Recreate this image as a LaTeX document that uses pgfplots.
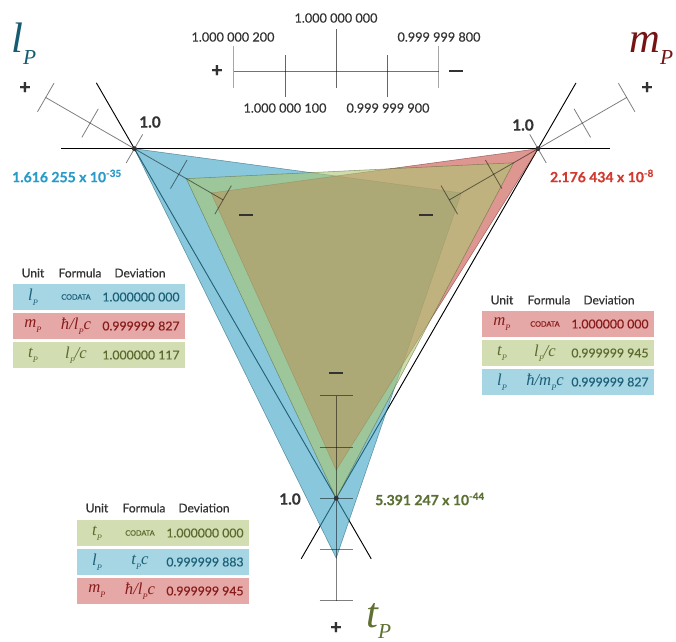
\documentclass[border=0pt]{standalone}
\usepackage{pgfplots}
\pgfplotsset{compat=1.18}
\usepackage{graphicx}
\usepackage{fontspec}
\setmainfont{Lato}[FakeBold=0.5]
\newfontfamily\symfont{Liberation Serif}

% ---------- colours ----------
\definecolor{fillB}{RGB}{58,163,197}
\definecolor{fillR}{RGB}{200,80,72}
\definecolor{fillG}{RGB}{172,197,113}
\definecolor{rowB}{RGB}{166,213,228}
\definecolor{rowR}{RGB}{230,168,166}
\definecolor{rowG}{RGB}{210,222,178}
\definecolor{txB}{RGB}{28,96,120}
\definecolor{txR}{RGB}{135,28,28}
\definecolor{txG}{RGB}{92,106,48}
\definecolor{valB}{RGB}{40,155,200}
\definecolor{valR}{RGB}{208,58,48}
\definecolor{valG}{RGB}{92,112,52}
\definecolor{bigL}{RGB}{22,92,112}
\definecolor{bigM}{RGB}{118,20,20}
\definecolor{bigT}{RGB}{96,112,50}
\definecolor{ink}{RGB}{51,51,51}

% ---------- data: each unit relative to its CODATA value ----------
% system fixed by the Planck length
\def\LsysL{1.000000000}\def\LsysM{0.999999827}\def\LsysT{1.000000117}
% system fixed by the Planck mass
\def\MsysM{1.000000000}\def\MsysT{0.999999945}\def\MsysL{0.999999827}
% system fixed by the Planck time
\def\TsysT{1.000000000}\def\TsysL{0.999999883}\def\TsysM{0.999999945}

% ---------- geometry of the three radial axes ----------
\def\cx{336.2}\def\cy{265.2}% centre
\def\R{233}%                 distance centre -> value 1.0
\def\sc{51.2}%               length of 1e-7 on every axis
\def\tl{16.5}%               half length of a tick
\def\uLx{-0.8660254}\def\uLy{-0.5}
\def\uMx{0.8660254}\def\uMy{-0.5}
\def\uTx{0}\def\uTy{1}

% point of value #2 on axis #3, stored as \#1x, \#1y
\newcommand\place[3]{%
  \expandafter\edef\csname #1x\endcsname{\fpeval{round(\cx+(\R+((#2)-1)*\sc*1e7)*(\csname u#3x\endcsname),3)}}%
  \expandafter\edef\csname #1y\endcsname{\fpeval{round(\cy+(\R+((#2)-1)*\sc*1e7)*(\csname u#3y\endcsname),3)}}}
\place{pLL}{\LsysL}{L}\place{pLM}{\LsysM}{M}\place{pLT}{\LsysT}{T}
\place{pML}{\MsysL}{L}\place{pMM}{\MsysM}{M}\place{pMT}{\MsysT}{T}
\place{pTL}{\TsysL}{L}\place{pTM}{\TsysM}{M}\place{pTT}{\TsysT}{T}

\tikzset{
  rule/.style={black, draw opacity=0.5, line width=0.6pt},
  side/.style={black, line width=0.7pt},
  hdr/.style={inner sep=0pt, text=ink, font=\fontsize{9}{10}\selectfont},
  tick/.style={inner sep=0pt, text=ink, font=\fontsize{9.5}{11}\selectfont},
  one/.style={inner sep=0pt, text=ink, font=\bfseries\fontsize{11.5}{13}\selectfont},
  sign/.style={inner sep=0pt, text=ink, font=\bfseries\fontsize{15}{16}\selectfont},
  val/.style={inner sep=0pt, font=\bfseries\fontsize{10.5}{12}\selectfont},
}

\newcommand\sub[1]{\raisebox{-0.28em}{\scalebox{0.5}{#1}}}
\newcommand\uf{\symfont\itshape\fontsize{12.5}{14}\selectfont}
\newcommand\codata{{\fontsize{5.5}{6}\selectfont CODATA}}
\newcommand\minus{\rule{10.5pt}{2.2pt}}

% ruler along axis #1, -2..+2 units around the value 1.0
\newcommand\ruler[1]{%
  \edef\ux{\csname u#1x\endcsname}\edef\uy{\csname u#1y\endcsname}%
  \edef\vx{\fpeval{\cx+\R*(\ux)}}\edef\vy{\fpeval{\cy+\R*(\uy)}}%
  \edef\tmp{\noexpand\addplot[rule] coordinates {(\fpeval{\vx+2*\sc*(\ux)},\fpeval{\vy+2*\sc*(\uy)}) (\fpeval{\vx-2*\sc*(\ux)},\fpeval{\vy-2*\sc*(\uy)})};}\tmp
  \foreach \k in {-2,-1,0,1,2}{%
    \edef\tmp{\noexpand\addplot[rule] coordinates {(\fpeval{\vx+(\k)*\sc*(\ux)-\tl*(\uy)},\fpeval{\vy+(\k)*\sc*(\uy)+\tl*(\ux)}) (\fpeval{\vx+(\k)*\sc*(\ux)+\tl*(\uy)},\fpeval{\vy+(\k)*\sc*(\uy)-\tl*(\ux)})};}\tmp
  }}

% table header at left edge #1, height #2
\newcommand\thead[2]{%
  \edef\tmp{\noexpand\node[hdr] at (\fpeval{#1+20},#2) {Unit};
    \noexpand\node[hdr] at (\fpeval{#1+67},#2) {Formula};
    \noexpand\node[hdr] at (\fpeval{#1+127},#2) {Deviation};}\tmp}
% table row: left edge, top, fill, text colour, unit, formula, deviation
\newcommand\trow[7]{%
  \edef\tmp{\noexpand\fill[#3] (#1,#2) rectangle (\fpeval{#1+172},\fpeval{#2+26});
    \noexpand\node[inner sep=0pt, text=#4] at (\fpeval{#1+20},\fpeval{#2+13}) {\unexpanded{#5}};
    \noexpand\node[inner sep=0pt, text=#4] at (\fpeval{#1+63},\fpeval{#2+13}) {\unexpanded{#6}};
    \noexpand\node[inner sep=0pt, text=#4, font=\noexpand\fontsize{9.2}{11}\noexpand\selectfont] at (\fpeval{#1+128},\fpeval{#2+13}) {#7};}\tmp}

\begin{document}
\begin{tikzpicture}
\begin{axis}[name=ax, x=0.75pt, y=0.75pt, y dir=reverse,
  xmin=0, xmax=676, ymin=0, ymax=642, enlargelimits=false,
  hide axis, clip=false]

% sides of the reference triangle
\addplot[side] coordinates {(61,148.7) (610,148.7)};
\addplot[side] coordinates {(96.4,82.9) (371.2,558.8)};
\addplot[side] coordinates {(576,82.9) (301.2,558.8)};

% the three unit systems
\addplot[fill=fillB, fill opacity=0.6, draw=fillB!55!black, draw opacity=0.6, line width=0.4pt]
  coordinates {(\pLLx,\pLLy) (\pLMx,\pLMy) (\pLTx,\pLTy)} -- cycle;
\addplot[fill=fillR, fill opacity=0.6, draw=fillR!55!black, draw opacity=0.6, line width=0.4pt]
  coordinates {(\pMLx,\pMLy) (\pMMx,\pMMy) (\pMTx,\pMTy)} -- cycle;
\addplot[fill=fillG, fill opacity=0.6, draw=fillG!50!black, draw opacity=0.6, line width=0.4pt]
  coordinates {(\pTLx,\pTLy) (\pTMx,\pTMy) (\pTTx,\pTTy)} -- cycle;

% radial rulers
\ruler{L}\ruler{M}\ruler{T}

% CODATA points
\addplot[only marks, mark=*, mark size=1.6pt, ink] coordinates {(\pLLx,\pLLy) (\pMMx,\pMMy) (\pTTx,\pTTy)};

% scale key
\addplot[black, draw opacity=0.55, line width=0.6pt] coordinates {(233.8,71) (438.6,71)};
\addplot[black, draw opacity=0.35, line width=0.9pt] coordinates {(233.8,46) (233.8,88)};
\addplot[black, draw opacity=0.6, line width=0.6pt] coordinates {(285,55) (285,97)};
\addplot[black, draw opacity=0.6, line width=0.6pt] coordinates {(336.2,29) (336.2,88)};
\addplot[black, draw opacity=0.6, line width=0.6pt] coordinates {(387.4,55) (387.4,97)};
\addplot[black, draw opacity=0.35, line width=0.9pt] coordinates {(438.6,46) (438.6,88)};
\node[tick] at (233,37) {1.000 000 200};
\node[tick] at (336,18) {1.000 000 000};
\node[tick] at (439,37) {0.999 999 800};
\node[tick] at (285,108) {1.000 000 100};
\node[tick] at (388,108) {0.999 999 900};
\node[sign] at (217,71) {+};
\node[sign] at (456,71) {\minus};

% signs along the axes
\node[sign] at (25,88) {+};
\node[sign] at (647,88) {+};
\node[sign] at (336,628) {+};
\node[sign] at (246,215) {\minus};
\node[sign] at (426,215) {\minus};
\node[sign] at (336,373) {\minus};

% value 1.0 at each vertex
\node[one] at (150,122) {1.0};
\node[one] at (523,125) {1.0};
\node[one] at (290,499) {1.0};

% CODATA values
\node[val, text=valB] at (67,176) {1.616 255 x 10\textsuperscript{-35}};
\node[val, text=valR] at (602,176) {2.176 434 x 10\textsuperscript{-8}};
\node[val, text=valG] at (430,499) {5.391 247 x 10\textsuperscript{-44}};

% unit names
\node[anchor=base west, inner sep=0pt, text=bigL] at (11,53) {\symfont\itshape\fontsize{32}{36}\selectfont l\sub{P}};
\node[anchor=base west, inner sep=0pt, text=bigM] at (629,53) {\symfont\itshape\fontsize{32}{36}\selectfont m\sub{P}};
\node[anchor=base west, inner sep=0pt, text=bigT] at (366,627) {\symfont\itshape\fontsize{32}{36}\selectfont t\sub{P}};

% tables
\thead{13}{273}
\trow{13}{284}{rowB}{txB}{\uf l\sub{P}}{\codata}{1.000000 000}
\trow{13}{313}{rowR}{txR}{\uf m\sub{P}}{\uf ħ/l\sub{P}c}{0.999999 827}
\trow{13}{342}{rowG}{txG}{\uf t\sub{P}}{\uf l\sub{P}/c}{1.000000 117}

\thead{482}{300}
\trow{482}{311}{rowR}{txR}{\uf m\sub{P}}{\codata}{1.000000 000}
\trow{482}{340}{rowG}{txG}{\uf t\sub{P}}{\uf l\sub{P}/c}{0.999999 945}
\trow{482}{369}{rowB}{txB}{\uf l\sub{P}}{\uf ħ/m\sub{P}c}{0.999999 827}

\thead{77}{508}
\trow{77}{520}{rowG}{txG}{\uf t\sub{P}}{\codata}{1.000000 000}
\trow{77}{549}{rowB}{txB}{\uf l\sub{P}}{\uf t\sub{P}c}{0.999999 883}
\trow{77}{578}{rowR}{txR}{\uf m\sub{P}}{\uf ħ/l\sub{P}c}{0.999999 945}
\end{axis}
\pgfresetboundingbox
\path (ax.south west) rectangle (ax.north east);
\end{tikzpicture}
\end{document}
